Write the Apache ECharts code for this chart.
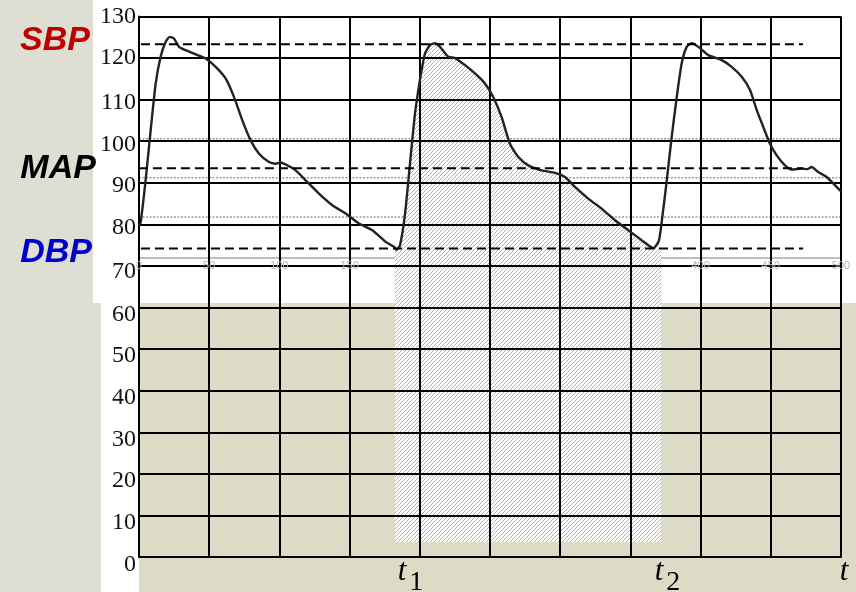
<!DOCTYPE html>
<html><head><meta charset="utf-8">
<script src="https://cdn.jsdelivr.net/npm/echarts@6/dist/echarts.min.js"></script>
<style>html,body{margin:0;padding:0;background:#dfded3}#c{width:856px;height:592px}</style>
</head><body><div id="c"></div>
<script>
// ---- data ----
const cycle1X = [0, 1.2, 4.7, 8.3, 11.9, 15.4, 19, 21.8, 24.9, 28.5, 33.2, 40.4, 47.5, 54.6, 61.7, 67.7, 73.6, 79.5, 85.5, 92.6, 97.3, 100.5, 104.5, 111.6, 118.7, 128.2, 137.7, 147.2, 156.7, 166.2, 175.7, 181.6, 183.3];
const cycle1Y = [79.6, 80.5, 90.6, 102.6, 113.9, 120.3, 123.9, 125.1, 124.7, 122.7, 121.9, 120.9, 119.9, 117.9, 115.1, 110.6, 105, 100.2, 97, 95, 94.6, 94.9, 94.4, 93, 90.6, 87.4, 84.6, 82.6, 80.2, 78.6, 75.8, 74.6, 73.9];
const cycle2X = [185.9, 189.5, 193, 196.6, 200.1, 203.7, 207.3, 210.8, 214.4, 220.3, 225.1, 232.2, 239.3, 246.4, 252.4, 258.3, 264.2, 270.2, 277.3, 286.8, 296.3, 303.4, 310.5, 320, 329.5, 339, 348.5, 358, 366.3];
const cycle2Y = [75.0, 82.6, 94.6, 106.7, 114.7, 121.1, 123.1, 123.6, 122.7, 120.3, 120, 118.3, 116.3, 113.9, 110.6, 105.8, 99.4, 96.2, 94.2, 93, 92.4, 91.4, 89, 86.2, 83.8, 81, 78.6, 76.2, 74.3];
const cycle3X = [370.2, 372.3, 375.9, 379.4, 383, 386.5, 390.1, 393.7, 398.4, 405.5, 415, 422.1, 429.3, 435.2, 440, 444.7, 449.4, 454.2, 460.1, 464.9, 468.5, 472, 476, 479.1, 483.8, 489.8, 499.3, 500];
const cycle3Y = [76, 80.6, 90.6, 101, 110.6, 118.7, 122.7, 123.6, 122.7, 120.7, 119.5, 117.9, 115.5, 112.3, 107.5, 103.4, 99.4, 96.6, 94.2, 93.2, 93.3, 93.4, 93.3, 93.8, 92.6, 91.4, 88.2, 88];

const refNames = ['SBP', 'MAP', 'DBP'];
const refValues = [123.3, 93.5, 74.2];
const refStartX = [-38.5, -30, -38.5];
const refEndX = 473;

const t1X = 183.3, t2X = 366.3;          // integration limits (minima)
const hatchLeft = 182.3, hatchRight = 371.8, hatchBase = 3.6;

const origGridY = [100.6, 91.2, 81.8];    // faint dotted lines of the embedded original plot
const origAxisY = 71.9;                   // its x-axis line
const origTickLabels = [0, 50, 100, 150, 400, 450, 500]; // visible faint x labels
const origTickLabelY = 70;

const tMarks = [{x: t1X, sub: '1'}, {x: t2X, sub: '2'}, {x: 498, sub: ''}];

// ---- styles ----
const refColors = ['#c00000', '#000000', '#0000cc'];
const refLabelNudge = [[5, -3.5], [-1, 0], [7, 3.7]];

const curve = [];
[[cycle1X, cycle1Y], [cycle2X, cycle2Y], [cycle3X, cycle3Y]].forEach(([xs, ys]) => xs.forEach((x, i) => curve.push([x, ys[i]])));

const inside = curve.filter(p => p[0] >= t1X && p[0] <= t2X);
const hatchPts = [[hatchLeft, inside[0][1]]].concat(inside, [[hatchRight, inside[inside.length - 1][1]], [hatchRight, hatchBase], [hatchLeft, hatchBase]]);

// hatch pattern
const S = 4;
const pc = document.createElement('canvas');
pc.width = S; pc.height = S;
const g = pc.getContext('2d');
g.fillStyle = '#ffffff'; g.fillRect(0, 0, S, S);
g.strokeStyle = '#b0b0b0'; g.lineWidth = 1;
g.beginPath();
g.moveTo(0, S); g.lineTo(S, 0);
g.moveTo(-1, 1); g.lineTo(1, -1);
g.moveTo(S - 1, S + 1); g.lineTo(S + 1, S - 1);
g.stroke();

const chart = echarts.init(document.getElementById('c'), null, {renderer: 'canvas'});

const series = [];
origGridY.forEach(v => series.push({
  type: 'line', data: [[0, v], [500, v]], symbol: 'none', z: -2, silent: true,
  lineStyle: {color: '#9c9c9c', width: 1.5, type: [2, 1.5]}
}));
series.push({
  type: 'line', data: [[0, origAxisY], [500, origAxisY]], symbol: 'none', z: -2, silent: true,
  lineStyle: {color: '#a8a8a8', width: 1.5}
});
series.push({
  type: 'custom', z: -1, silent: true, data: [[0, 0]],
  renderItem: (params, api) => ({
    type: 'polygon',
    shape: {points: hatchPts.map(p => api.coord(p))},
    style: {fill: {image: pc, repeat: 'repeat'}, stroke: null}
  })
});
series.push({
  type: 'scatter', z: 1, silent: true, symbolSize: 0, itemStyle: {opacity: 1},
  data: origTickLabels.map(v => [v, origTickLabelY]),
  label: {show: true, position: 'inside', formatter: p => String(p.value[0]),
    color: '#b4b4b4', fontSize: 11, fontFamily: 'Liberation Sans'}
});
series.push({
  type: 'line', data: curve, symbol: 'none', z: 3, smooth: 0.2,
  lineStyle: {color: '#222', width: 2.4}
});
refNames.forEach((n, i) => series.push({
  type: 'line', data: [[refStartX[i], refValues[i]], [refEndX, refValues[i]]], symbol: 'none', z: 4, clip: false,
  lineStyle: {color: '#000', width: 2, type: [9, 5]}
}));
series.push({
  type: 'scatter', z: 5, clip: false, symbolSize: 0, silent: true, itemStyle: {opacity: 1},
  data: refNames.map((n, i) => ({
    value: [refStartX[i], refValues[i]], name: n,
    label: {color: refColors[i], offset: refLabelNudge[i]}
  })),
  label: {show: true, position: 'left', distance: 0, formatter: p => p.name, opacity: 1,
    fontFamily: 'Liberation Sans', fontWeight: 'bold', fontStyle: 'italic', fontSize: 34}
});

const yShift = v => v === 0 ? 'e' : v <= 60 ? 'd' : v === 70 ? 'c' : v >= 120 ? 'a' : 'b';
const base = {fontFamily: 'Liberation Serif', fontSize: 24, color: '#111'};

const bgRects = [
  {type: 'rect', z: -10, silent: true, shape: {x: 93, y: 0, width: 763, height: 303}, style: {fill: '#ffffff'}},
  {type: 'rect', z: -10, silent: true, shape: {x: 101, y: 303, width: 38, height: 289}, style: {fill: '#ffffff'}},
  {type: 'rect', z: -10, silent: true, shape: {x: 139, y: 303, width: 717, height: 289}, style: {fill: '#dcdbc6'}}
];

chart.setOption({
  animation: false,
  backgroundColor: '#dfded3',
  grid: {left: 139, right: 15, top: 16.5, bottom: 35},
  xAxis: {
    type: 'value', min: 0, max: 500, interval: 50,
    axisLine: {show: true, onZero: false, lineStyle: {color: '#000', width: 2}},
    axisTick: {show: false}, axisLabel: {show: false},
    splitLine: {show: true, lineStyle: {color: '#000', width: 2}}
  },
  yAxis: {
    type: 'value', min: 0, max: 130, interval: 10,
    axisLine: {show: true, lineStyle: {color: '#000', width: 2}},
    axisTick: {show: false},
    axisLabel: {
      margin: 3, ...base,
      formatter: v => '{' + yShift(v) + '|' + v + '}',
      rich: {
        a: {...base, padding: [0, 0, 0, 0]},
        b: {...base, padding: [6, 0, 0, 0]},
        c: {...base, padding: [12, 0, 0, 0]},
        d: {...base, padding: [14, 0, 0, 0]},
        e: {...base, padding: [16, 0, 0, 0]}
      }
    },
    splitLine: {show: true, lineStyle: {color: '#000', width: 2}}
  },
  graphic: bgRects,
  series: series
});

const y0 = chart.convertToPixel({yAxisIndex: 0}, 0);
const tGraphics = [];
tMarks.forEach(m => {
  const px = chart.convertToPixel({xAxisIndex: 0}, m.x);
  tGraphics.push({type: 'text', z: 10, silent: true, x: px + 1.5, y: y0 + 15,
    style: {text: 't', fontFamily: 'Liberation Serif', fontStyle: 'italic', fontSize: 31, fill: '#000', verticalAlign: 'middle', align: 'left'}});
  if (m.sub) tGraphics.push({type: 'text', z: 10, silent: true, x: px + 13, y: y0 + 25.5,
    style: {text: m.sub, fontFamily: 'Liberation Serif', fontSize: 28, fill: '#000', verticalAlign: 'middle', align: 'left'}});
});
chart.setOption({graphic: bgRects.concat(tGraphics)}, {replaceMerge: ['graphic']});
</script>
</body></html>
